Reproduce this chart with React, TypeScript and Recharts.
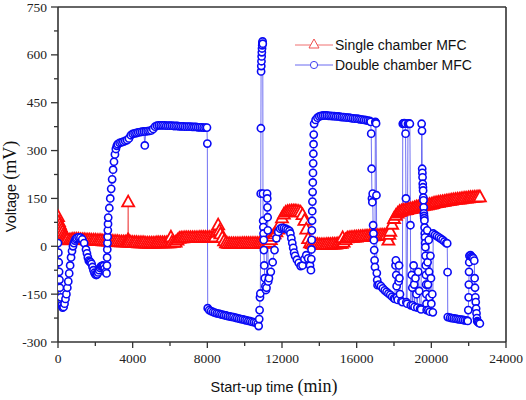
import React from "react";
import {
  ComposedChart,
  Line,
  XAxis,
  YAxis,
  ReferenceLine,
  Legend,
  Label,
} from "recharts";

// [time (min), voltage (mV)]
const singleChamber: [number, number][] = [
  [0, 94], [50, 78], [100, 70], [150, 62], [200, 55], [250, 48], [300, 40], [350, 34],
  [400, 30], [450, 26], [500, 23], [600, 21], [700, 22], [800, 23], [900, 23], [1000, 23],
  [1100, 23], [1200, 22], [1300, 22], [1400, 22], [1500, 21], [1600, 21], [1700, 21],
  [1800, 20], [1900, 20], [2000, 20], [2100, 19], [2200, 19], [2300, 19], [2400, 18],
  [2500, 18], [2600, 18], [2700, 17], [2800, 17], [2900, 17], [3000, 16], [3100, 16],
  [3200, 16], [3300, 15], [3400, 15], [3500, 15], [3600, 15], [3700, 14], [3740, 20],
  [3760, 140], [3780, 20], [3800, 14], [3900, 14], [4000, 13], [4100, 13], [4200, 13],
  [4300, 12], [4400, 12], [4500, 12], [4600, 12], [4700, 11], [4800, 11], [4900, 11],
  [5000, 11], [5100, 11], [5200, 11], [5300, 12], [5400, 12], [5500, 12], [5600, 12],
  [5700, 12], [5800, 12], [5900, 12], [6000, 12], [6050, 30], [6100, 14], [6200, 13],
  [6300, 14], [6400, 20], [6500, 26], [6600, 27], [6700, 27], [6800, 28], [6900, 28],
  [7000, 28], [7100, 28], [7200, 28], [7300, 28], [7400, 28], [7500, 28], [7600, 29],
  [7700, 29], [7800, 29], [7900, 29], [8000, 29], [8100, 29], [8200, 29], [8300, 29],
  [8400, 30], [8500, 45], [8580, 68], [8650, 50], [8700, 40], [8800, 28], [8900, 18],
  [9000, 12], [9100, 10], [9200, 9], [9300, 9], [9400, 9], [9500, 9], [9600, 9],
  [9700, 9], [9800, 9], [9900, 10], [10000, 10], [10100, 10], [10200, 10], [10300, 10],
  [10400, 10], [10500, 10], [10600, 10], [10700, 10], [10800, 11], [10900, 11],
  [11000, 11], [11100, 11], [11200, 11], [11300, 14], [11400, 22], [11500, 32],
  [11600, 40], [11700, 46], [11800, 55], [11900, 72], [12000, 90], [12100, 102],
  [12200, 108], [12300, 110], [12400, 111], [12500, 112], [12600, 112], [12700, 112],
  [12800, 111], [12900, 110], [13000, 108], [13100, 100], [13200, 82], [13300, 55],
  [13400, 25], [13500, 12], [13600, 9], [13700, 8], [13800, 7], [13900, 7], [14000, 6],
  [14100, 6], [14200, 6], [14300, 6], [14400, 7], [14500, 7], [14600, 7], [14700, 8],
  [14800, 8], [14900, 8], [15000, 9], [15100, 9], [15200, 10], [15250, 28], [15300, 14],
  [15400, 22], [15500, 27], [15600, 28], [15700, 29], [15800, 29], [15900, 30],
  [16000, 30], [16100, 31], [16200, 31], [16300, 32], [16400, 32], [16500, 33],
  [16600, 33], [16700, 34], [16800, 34], [16900, 34], [17000, 35], [17100, 35],
  [17200, 35], [17300, 36], [17400, 36], [17500, 36], [17600, 37], [17700, 20],
  [17750, 38], [17800, 48], [17900, 70], [18000, 88], [18100, 98], [18200, 105],
  [18300, 110], [18400, 112], [18500, 114], [18600, 115], [18700, 116], [18800, 118],
  [18900, 119], [19000, 120], [19100, 122], [19200, 124], [19300, 125], [19400, 127],
  [19500, 128], [19600, 129], [19700, 130], [19800, 131], [19900, 132], [20000, 133],
  [20100, 135], [20200, 137], [20300, 138], [20400, 139], [20500, 140], [20600, 141],
  [20700, 142], [20800, 143], [20900, 144], [21000, 145], [21100, 146], [21200, 147],
  [21300, 148], [21400, 149], [21500, 149], [21600, 150], [21700, 151], [21800, 152],
  [21900, 152], [22000, 153], [22100, 154], [22200, 154], [22300, 155], [22400, 155],
  [22500, 156], [22600, 156],
];

const doubleChamber: [number, number][] = [
  [0, 10], [20, -20], [40, -50], [60, -80], [80, -105], [100, -130], [150, -160],
  [200, -185], [250, -192], [300, -190], [350, -180], [400, -165], [450, -150],
  [500, -130], [550, -110], [600, -85], [650, -60], [700, -35], [750, -15], [800, 0],
  [850, 10], [900, 18], [950, 23], [1000, 26], [1100, 28], [1200, 27], [1300, 22],
  [1400, 10], [1500, -10], [1550, -22], [1600, -35], [1650, -45], [1700, -48],
  [1750, -50], [1800, -55], [1850, -65], [1900, -75], [1950, -83], [2000, -88],
  [2050, -90], [2100, -88], [2150, -82], [2200, -75], [2250, -68], [2300, -63],
  [2350, -62], [2400, -60], [2450, -62], [2500, -70], [2550, -80], [2600, -85],
  [2620, -60], [2630, -35], [2640, -10], [2650, 10], [2660, 30], [2670, 50], [2680, 70],
  [2690, 90], [2750, 120], [2800, 150], [2850, 180], [2900, 210], [2950, 240],
  [3000, 265], [3050, 288], [3100, 305], [3150, 315], [3200, 320], [3300, 324],
  [3400, 326], [3500, 328], [3600, 330], [3700, 333], [3800, 338], [3900, 348],
  [4000, 352], [4100, 354], [4200, 355], [4300, 357], [4400, 358], [4500, 359],
  [4600, 360], [4650, 316], [4700, 360], [4800, 361], [4900, 362], [5000, 363],
  [5100, 368], [5200, 375], [5300, 378], [5400, 379], [5500, 379], [5600, 379],
  [5700, 379], [5800, 378], [5900, 378], [6000, 378], [6100, 378], [6200, 377],
  [6300, 377], [6400, 377], [6500, 376], [6600, 376], [6700, 376], [6800, 375],
  [6900, 375], [7000, 375], [7100, 375], [7200, 374], [7300, 374], [7400, 374],
  [7500, 373], [7600, 373], [7700, 373], [7800, 372], [7900, 372], [7980, 372],
  [8000, 322], [8020, -194], [8100, -200], [8200, -203], [8300, -206], [8400, -208],
  [8500, -210], [8600, -211], [8700, -213], [8800, -214], [8900, -216], [9000, -217],
  [9100, -219], [9200, -220], [9300, -221], [9400, -222], [9500, -224], [9600, -225],
  [9700, -227], [9800, -228], [9900, -229], [10000, -231], [10100, -232], [10200, -234],
  [10300, -235], [10400, -237], [10500, -238], [10600, -240], [10700, -242],
  [10750, -250], [10780, -228], [10800, -200], [10820, -160], [10840, -148],
  [10860, 165], [10870, 370], [10880, 548], [10890, 565], [10900, 580], [10910, 595],
  [10920, 608], [10930, 620], [10940, 630], [10950, 638], [10960, 642], [10970, 635],
  [10980, 165], [10990, 80], [11000, 60], [11010, 40], [11020, 20], [11030, -12],
  [11050, -60], [11080, -100], [11110, -125], [11140, -137], [11170, -130],
  [11200, 165], [11210, 150], [11220, 122], [11230, 91], [11240, 50], [11260, -110],
  [11300, -100], [11400, -80], [11500, -50], [11600, -12], [11700, 25], [11800, 45],
  [11900, 55], [12000, 58], [12100, 57], [12200, 55], [12300, 52], [12400, 48],
  [12450, 40], [12500, 25], [12550, 10], [12600, -5], [12650, -20], [12700, -30],
  [12800, -42], [12900, -52], [13000, -62], [13100, -60], [13200, -40], [13300, -28],
  [13400, -38], [13500, -60], [13550, -75], [13570, -40], [13580, -10], [13590, 20],
  [13600, 50], [13610, 80], [13620, 110], [13630, 140], [13640, 170], [13650, 200],
  [13660, 230], [13670, 260], [13680, 290], [13690, 320], [13700, 350], [13720, 384],
  [13800, 396], [13900, 403], [14000, 407], [14100, 409], [14200, 410], [14300, 410],
  [14400, 410], [14500, 409], [14600, 409], [14700, 408], [14800, 408], [14900, 407],
  [15000, 407], [15100, 406], [15200, 405], [15300, 405], [15400, 404], [15500, 403],
  [15600, 403], [15700, 402], [15800, 401], [15900, 400], [16000, 400], [16100, 399],
  [16200, 398], [16300, 397], [16400, 396], [16500, 395], [16600, 394], [16700, 393],
  [16750, 390], [16780, 353], [16800, 243], [16820, 150], [16840, 138], [16860, 165],
  [16880, 66], [16900, 40], [16920, 19], [16940, -12], [16960, -44], [16980, -65],
  [17000, 390], [17020, 388], [17040, 385], [17060, 160], [17080, -84], [17100, -106],
  [17120, -122], [17200, -120], [17300, -125], [17400, -132], [17500, -138],
  [17600, -143], [17700, -148], [17800, -152], [17900, -158], [18000, -163],
  [18050, -165], [18080, -60], [18100, -44], [18120, -90], [18140, -125], [18160, -160],
  [18200, -168], [18250, -110], [18270, -60], [18290, -100], [18320, -150],
  [18400, -172], [18450, -175], [18470, 384], [18500, 385], [18550, 386], [18600, 385],
  [18620, 353], [18640, 150], [18660, -175], [18700, -180], [18750, 384], [18800, 385],
  [18850, 384], [18880, 66], [18900, -185], [18950, -90], [18980, -130], [19000, -185],
  [19050, -60], [19080, -120], [19100, -190], [19150, -100], [19200, -150],
  [19250, -192], [19300, -80], [19350, -140], [19400, -195], [19450, -198],
  [19480, 384], [19500, 362], [19510, 243], [19520, 230], [19530, 216], [19540, 196],
  [19550, 185], [19560, 175], [19570, 153], [19580, 144], [19590, 122], [19600, 103],
  [19610, 95], [19620, 88], [19630, 81], [19640, 59], [19650, 40], [19660, 28],
  [19670, 10], [19680, -3], [19690, -30], [19700, -60], [19710, -90], [19720, -120],
  [19730, -150], [19740, -180], [19750, -200], [19780, 50], [19800, -50], [19820, -120],
  [19840, -200], [19860, 20], [19880, -80], [19900, -160], [19920, -205], [19950, -30],
  [19980, -100], [20000, -180], [20050, -150], [20080, -207], [20100, 40], [20200, 36],
  [20300, 32], [20400, 28], [20500, 24], [20600, 20], [20700, 15], [20800, 10],
  [20850, 9], [20870, -81], [20880, -222], [21000, -224], [21100, -225], [21200, -226],
  [21300, -227], [21400, -228], [21500, -229], [21600, -230], [21700, -231],
  [21800, -232], [21900, -233], [21950, -234], [21980, -200], [22000, -160],
  [22010, -120], [22020, -80], [22030, -50], [22040, -30], [22100, -28], [22150, -32],
  [22200, -35], [22250, -38], [22300, -45], [22320, -100], [22340, -130], [22360, -160],
  [22380, -175], [22400, -195], [22420, -210], [22440, -225], [22460, -235],
  [22500, -238], [22550, -240], [22600, -242],
];

const xTicks = [0, 2000, 4000, 6000, 8000, 10000, 12000, 14000, 16000, 18000, 20000, 22000, 24000];
const yTicks = [-300, -225, -150, -75, 0, 75, 150, 225, 300, 375, 450, 525, 600, 675, 750];

const singleData = singleChamber.map(([t, v]) => ({ t, v }));
const doubleData = doubleChamber.map(([t, v]) => ({ t, v }));

const SERIF = "'Liberation Serif', 'Times New Roman', serif";
const SANS = "'Liberation Sans', Arial, sans-serif";
const AXIS = "#333";

const YTick = ({ x, y, payload }: any) => {
  const major = payload.value % 150 === 0;
  return (
    <g>
      <line x1={x - (major ? 7 : 4)} x2={x} y1={y} y2={y} stroke={AXIS} strokeWidth={1.3} />
      {major && (
        <text x={x - 11} y={y} dy={4.5} textAnchor="end" fontFamily={SERIF} fontSize={13.5} fill="#222">
          {payload.value}
        </text>
      )}
    </g>
  );
};

const XTick = ({ x, y, payload }: any) => {
  const major = payload.value % 4000 === 0;
  return (
    <g>
      <line x1={x} x2={x} y1={y} y2={y + (major ? 6 : 4)} stroke={AXIS} strokeWidth={1.3} />
      {major && (
        <text x={x} y={y + 21} textAnchor="middle" fontFamily={SERIF} fontSize={13.5} fill="#222">
          {payload.value}
        </text>
      )}
    </g>
  );
};

const XTitle = ({ viewBox }: any) => (
  <text x={viewBox.x + viewBox.width / 2 - 8} y={viewBox.y + 50} textAnchor="middle" fill="#111">
    <tspan fontFamily={SANS} fontSize={14.5}>Start-up time </tspan>
    <tspan fontFamily={SERIF} fontSize={18}>(min)</tspan>
  </text>
);

const YTitle = ({ viewBox }: any) => (
  <text
    transform={`translate(16, ${viewBox.y + viewBox.height / 2 + 12}) rotate(-90)`}
    textAnchor="middle"
    fill="#111"
  >
    <tspan fontFamily={SANS} fontSize={14.5}>Voltage </tspan>
    <tspan fontFamily={SERIF} fontSize={18}>(mV)</tspan>
  </text>
);

const triangle = (cx: number, cy: number, s: number) =>
  `M${cx},${cy - s} L${cx + s},${cy + s * 0.8} L${cx - s},${cy + s * 0.8} Z`;

const RedDot = (props: any) => {
  const { cx, cy, index } = props;
  if (cx == null || cy == null) return <g key={`r${index}`} />;
  return (
    <path key={`r${index}`} d={triangle(cx, cy, 6)} fill="#fff" stroke="#ff0a0a" strokeWidth={1.8} />
  );
};

const BlueDot = (props: any) => {
  const { cx, cy, index } = props;
  if (cx == null || cy == null) return <g key={`b${index}`} />;
  return <circle key={`b${index}`} cx={cx} cy={cy} r={3.6} fill="#fff" stroke="#0a0af5" strokeWidth={1.6} />;
};

const LegendBox = () => (
  <svg width={200} height={44}>
    <line x1={2} x2={40} y1={12} y2={12} stroke="#f07070" strokeWidth={1} />
    <path d={triangle(21, 11, 5)} fill="#fff" stroke="#f05050" strokeWidth={1} />
    <text x={42} y={17} fontFamily={SANS} fontSize={14} fill="#111">Single chamber MFC</text>
    <line x1={2} x2={40} y1={32} y2={32} stroke="#6a6af0" strokeWidth={1} />
    <circle cx={21} cy={32} r={3.6} fill="#fff" stroke="#4040f0" strokeWidth={1} />
    <text x={42} y={37} fontFamily={SANS} fontSize={14} fill="#111">Double chamber MFC</text>
  </svg>
);

export default function App() {
  return (
    <div style={{ position: "absolute", left: 0, top: 0, background: "#fff" }}>
      <ComposedChart width={526} height={400} margin={{ top: 7, right: 20, bottom: 0, left: 0 }}>
        <XAxis
          type="number"
          dataKey="t"
          domain={[0, 24000]}
          ticks={xTicks}
          interval={0}
          tick={<XTick />}
          tickLine={false}
          tickSize={0}
          tickMargin={0}
          height={58}
          axisLine={{ stroke: AXIS, strokeWidth: 1.6 }}
          allowDataOverflow
        >
          <Label content={<XTitle />} />
        </XAxis>
        <YAxis
          type="number"
          domain={[-300, 750]}
          ticks={yTicks}
          interval={0}
          tick={<YTick />}
          tickLine={false}
          tickSize={0}
          tickMargin={0}
          width={58}
          axisLine={{ stroke: AXIS, strokeWidth: 1.6 }}
          allowDataOverflow
        >
          <Label content={<YTitle />} />
        </YAxis>
        <ReferenceLine y={750} stroke={AXIS} strokeWidth={1.6} />
        <ReferenceLine x={24000} stroke={AXIS} strokeWidth={1.6} />
        <Line
          data={singleData}
          dataKey="v"
          name="Single chamber MFC"
          type="linear"
          stroke="#f06060"
          strokeWidth={0.9}
          dot={RedDot}
          activeDot={false}
          isAnimationActive={false}
        />
        <Line
          data={doubleData}
          dataKey="v"
          name="Double chamber MFC"
          type="linear"
          stroke="#6060f0"
          strokeWidth={0.9}
          dot={BlueDot}
          activeDot={false}
          isAnimationActive={false}
        />
        <Legend
          layout="vertical"
          align="center"
          verticalAlign="middle"
          content={<LegendBox />}
          wrapperStyle={{ position: "absolute", left: 293, top: 33, width: 200, height: 44 }}
        />
      </ComposedChart>
    </div>
  );
}
